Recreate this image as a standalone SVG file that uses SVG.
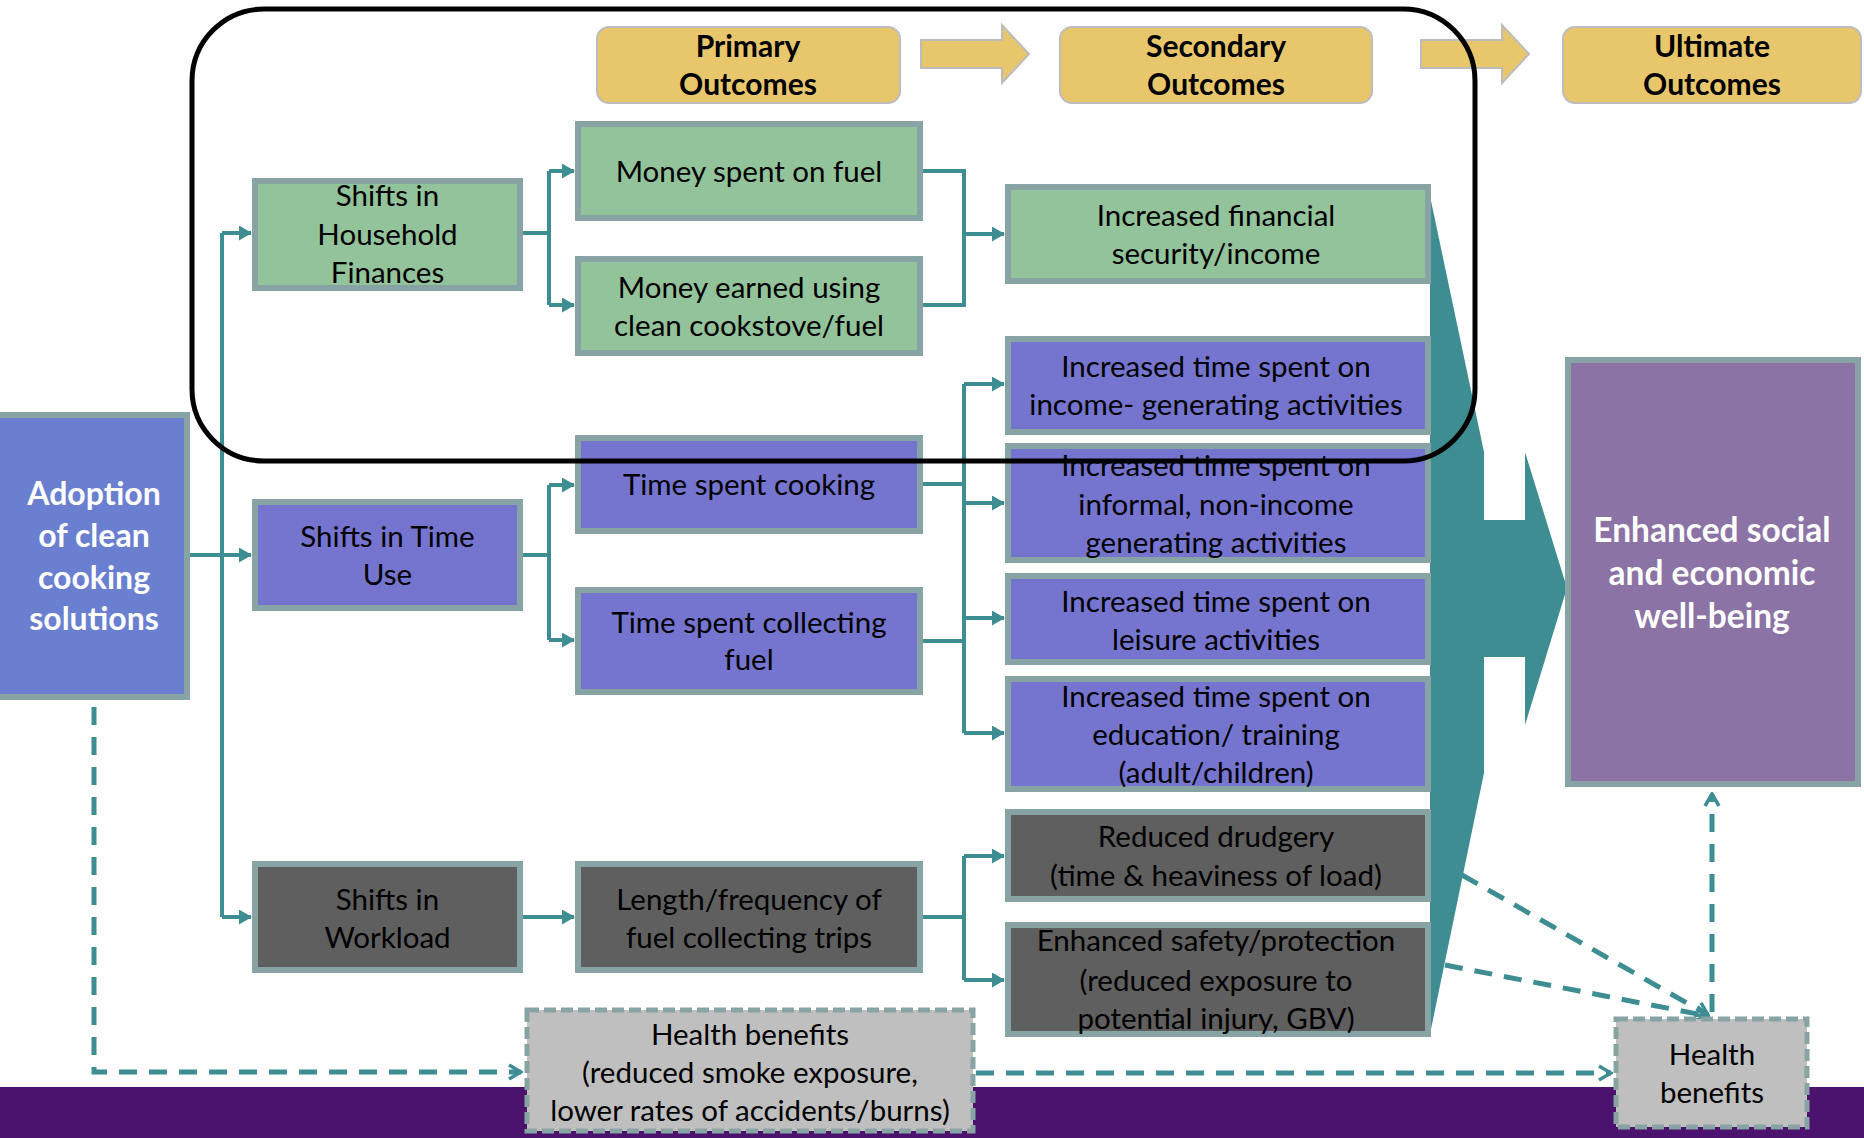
<svg xmlns="http://www.w3.org/2000/svg" width="1864" height="1138" viewBox="0 0 1864 1138">
<defs>
<marker id="arr" viewBox="0 0 13 15" refX="12" refY="7.5" markerWidth="13" markerHeight="15" markerUnits="userSpaceOnUse" orient="auto"><path d="M0,0 L13,7.5 L0,15 Z" fill="#3e8d92"/></marker>
<marker id="chev" viewBox="-2 -2 16 18" refX="12" refY="7" markerWidth="16" markerHeight="18" markerUnits="userSpaceOnUse" orient="auto"><path d="M0,0 L12,7 L0,14" fill="none" stroke="#3e8d92" stroke-width="3.5"/></marker>
<style>
.box{stroke:#87a3a3;stroke-width:6}
.green{fill:#93c39a}
.violet{fill:#7575cf}
.blue{fill:#6b7fd0}
.dark{fill:#5f5f5f}
.plum{fill:#8b73a5}
.hdr{fill:#e8c76c;stroke:#bcbcbc;stroke-width:2}
.health{fill:#bfbfbf;stroke:#87a3a3;stroke-width:5;stroke-dasharray:12 5}
.t{font-family:Lato,"Liberation Sans",sans-serif;font-size:29.5px;fill:#000;text-anchor:middle}
.b{font-weight:bold;font-size:30px}
.w{fill:#fff;font-weight:bold;font-size:32px}
.w2{fill:#fff;font-weight:bold;font-size:33.5px}
.line{fill:none;stroke:#3e8d92;stroke-width:4}
.dash{fill:none;stroke:#3e8d92;stroke-width:5;stroke-dasharray:18 12}
</style>
</defs>
<rect x="0" y="1087" width="1864" height="51" fill="#4b136d"/>
<g id="headers">
<g id="primary-outcomes"><rect class="hdr" x="597" y="27" width="303" height="76" rx="12"/><text class="t b" x="748" y="57">Primary</text><text class="t b" x="748" y="95">Outcomes</text></g>
<path d="M921,40 H1002 V25 L1029,54 L1002,83 V68 H921 Z" class="hdr" stroke-width="1.5"/>
<g id="secondary-outcomes"><rect class="hdr" x="1060" y="27" width="312" height="76" rx="12"/><text class="t b" x="1216" y="57">Secondary</text><text class="t b" x="1216" y="95">Outcomes</text></g>
<path d="M1421,40 H1502 V25 L1529,54 L1502,83 V68 H1421 Z" class="hdr" stroke-width="1.5"/>
<g id="ultimate-outcomes"><rect class="hdr" x="1563" y="27" width="298" height="76" rx="12"/><text class="t b" x="1712" y="57">Ultimate</text><text class="t b" x="1712" y="95">Outcomes</text></g>
</g>
<path id="big-arrow" d="M1430,196 L1484,452 L1484,520 L1525,520 L1525,452 L1567,588 L1525,725 L1525,657 L1484,657 L1484,773 L1430,1034 Z" fill="#3e8d92"/>
<g id="connectors">
<path class="line" d="M190,555 H251" marker-end="url(#arr)"/>
<path class="line" d="M222,233 V917"/>
<path class="line" d="M222,233 H251" marker-end="url(#arr)"/>
<path class="line" d="M222,917 H251" marker-end="url(#arr)"/>
<path class="line" d="M523,233 H549 M549,171 V305"/>
<path class="line" d="M549,171 H574" marker-end="url(#arr)"/>
<path class="line" d="M549,305 H574" marker-end="url(#arr)"/>
<path class="line" d="M923,171 H964 V305 H923"/>
<path class="line" d="M964,234 H1004" marker-end="url(#arr)"/>
<path class="line" d="M523,555 H549 M549,485 V640"/>
<path class="line" d="M549,485 H574" marker-end="url(#arr)"/>
<path class="line" d="M549,640 H574" marker-end="url(#arr)"/>
<path class="line" d="M923,484 H964 M923,641 H964 M964,384 V733"/>
<path class="line" d="M964,384 H1004" marker-end="url(#arr)"/>
<path class="line" d="M964,503 H1004" marker-end="url(#arr)"/>
<path class="line" d="M964,618 H1004" marker-end="url(#arr)"/>
<path class="line" d="M964,733 H1004" marker-end="url(#arr)"/>
<path class="line" d="M523,917 H574" marker-end="url(#arr)"/>
<path class="line" d="M923,917 H964 M964,856 V980"/>
<path class="line" d="M964,856 H1004" marker-end="url(#arr)"/>
<path class="line" d="M964,980 H1004" marker-end="url(#arr)"/>
<path class="dash" d="M94,707 V1072 H521" marker-end="url(#chev)"/>
<path class="dash" d="M976,1073 H1611" marker-end="url(#chev)"/>
<path class="dash" d="M1462,875 L1708,1015" marker-end="url(#chev)"/>
<path class="dash" d="M1445,965 L1708,1016" marker-end="url(#chev)"/>
<path class="dash" d="M1712,1012 V794" marker-end="url(#chev)"/>
</g>
<g id="adoption"><rect class="box blue" x="-3" y="415" width="190" height="282"/><text class="t w" x="94" y="505">Adoption</text><text class="t w" x="94" y="547">of clean</text><text class="t w" x="94" y="589">cooking</text><text class="t w" x="94" y="630">solutions</text></g>
<g id="shifts-household-finances"><rect class="box green" x="255" y="181" width="265" height="107"/><text class="t" x="387.5" y="206">Shifts in</text><text class="t" x="387.5" y="245">Household</text><text class="t" x="387.5" y="283">Finances</text></g>
<g id="money-spent"><rect class="box green" x="578" y="124" width="342" height="94"/><text class="t" x="749" y="182">Money spent on fuel</text></g>
<g id="money-earned"><rect class="box green" x="578" y="259" width="342" height="94"/><text class="t" x="749" y="298">Money earned using</text><text class="t" x="749" y="336">clean cookstove/fuel</text></g>
<g id="increased-financial"><rect class="box green" x="1008" y="187" width="420" height="94"/><text class="t" x="1216" y="226">Increased financial</text><text class="t" x="1216" y="264">security/income</text></g>
<g id="increased-income-gen"><rect class="box violet" x="1008" y="339" width="420" height="93"/><text class="t" x="1216" y="377">Increased time spent on</text><text class="t" x="1216" y="415">income- generating activities</text></g>
<g id="increased-informal"><rect class="box violet" x="1008" y="446" width="420" height="114"/><text class="t" x="1216" y="476">Increased time spent on</text><text class="t" x="1216" y="515">informal, non-income</text><text class="t" x="1216" y="553">generating activities</text></g>
<g id="increased-leisure"><rect class="box violet" x="1008" y="576" width="420" height="86"/><text class="t" x="1216" y="612">Increased time spent on</text><text class="t" x="1216" y="650">leisure activities</text></g>
<g id="increased-education"><rect class="box violet" x="1008" y="679" width="420" height="110"/><text class="t" x="1216" y="707">Increased time spent on</text><text class="t" x="1216" y="745">education/ training</text><text class="t" x="1216" y="783">(adult/children)</text></g>
<g id="shifts-time-use"><rect class="box violet" x="255" y="502" width="265" height="106"/><text class="t" x="387.5" y="547">Shifts in Time</text><text class="t" x="387.5" y="585">Use</text></g>
<g id="time-cooking"><rect class="box violet" x="578" y="438" width="342" height="93"/><text class="t" x="749" y="495">Time spent cooking</text></g>
<g id="time-collecting"><rect class="box violet" x="578" y="590" width="342" height="102"/><text class="t" x="749" y="633">Time spent collecting</text><text class="t" x="749" y="670">fuel</text></g>
<g id="shifts-workload"><rect class="box dark" x="255" y="864" width="265" height="106"/><text class="t" x="387.5" y="910">Shifts in</text><text class="t" x="387.5" y="948">Workload</text></g>
<g id="length-frequency"><rect class="box dark" x="578" y="864" width="342" height="106"/><text class="t" x="749" y="910">Length/frequency of</text><text class="t" x="749" y="948">fuel collecting trips</text></g>
<g id="reduced-drudgery"><rect class="box dark" x="1008" y="812" width="420" height="87"/><text class="t" x="1216" y="847">Reduced drudgery</text><text class="t" x="1216" y="886">(time &amp; heaviness of load)</text></g>
<g id="enhanced-safety"><rect class="box dark" x="1008" y="925" width="420" height="109"/><text class="t" x="1216" y="951">Enhanced safety/protection</text><text class="t" x="1216" y="991">(reduced exposure to</text><text class="t" x="1216" y="1029">potential injury, GBV)</text></g>
<g id="enhanced-social"><rect class="box plum" x="1568" y="360" width="290" height="424"/><text class="t w2" x="1712" y="542">Enhanced social</text><text class="t w2" x="1712" y="585">and economic</text><text class="t w2" x="1712" y="628">well-being</text></g>
<g id="health-benefits-1"><rect class="health" x="527" y="1010" width="446" height="121"/><text class="t" x="750" y="1045">Health benefits</text><text class="t" x="750" y="1083">(reduced smoke exposure,</text><text class="t" x="750" y="1121">lower rates of accidents/burns)</text></g>
<g id="health-benefits-2"><rect class="health" x="1616" y="1019" width="191" height="108"/><text class="t" x="1712" y="1065">Health</text><text class="t" x="1712" y="1103">benefits</text></g>
<rect id="highlight" x="192" y="9" width="1283" height="452" rx="72" fill="none" stroke="#000" stroke-width="5"/>
</svg>
